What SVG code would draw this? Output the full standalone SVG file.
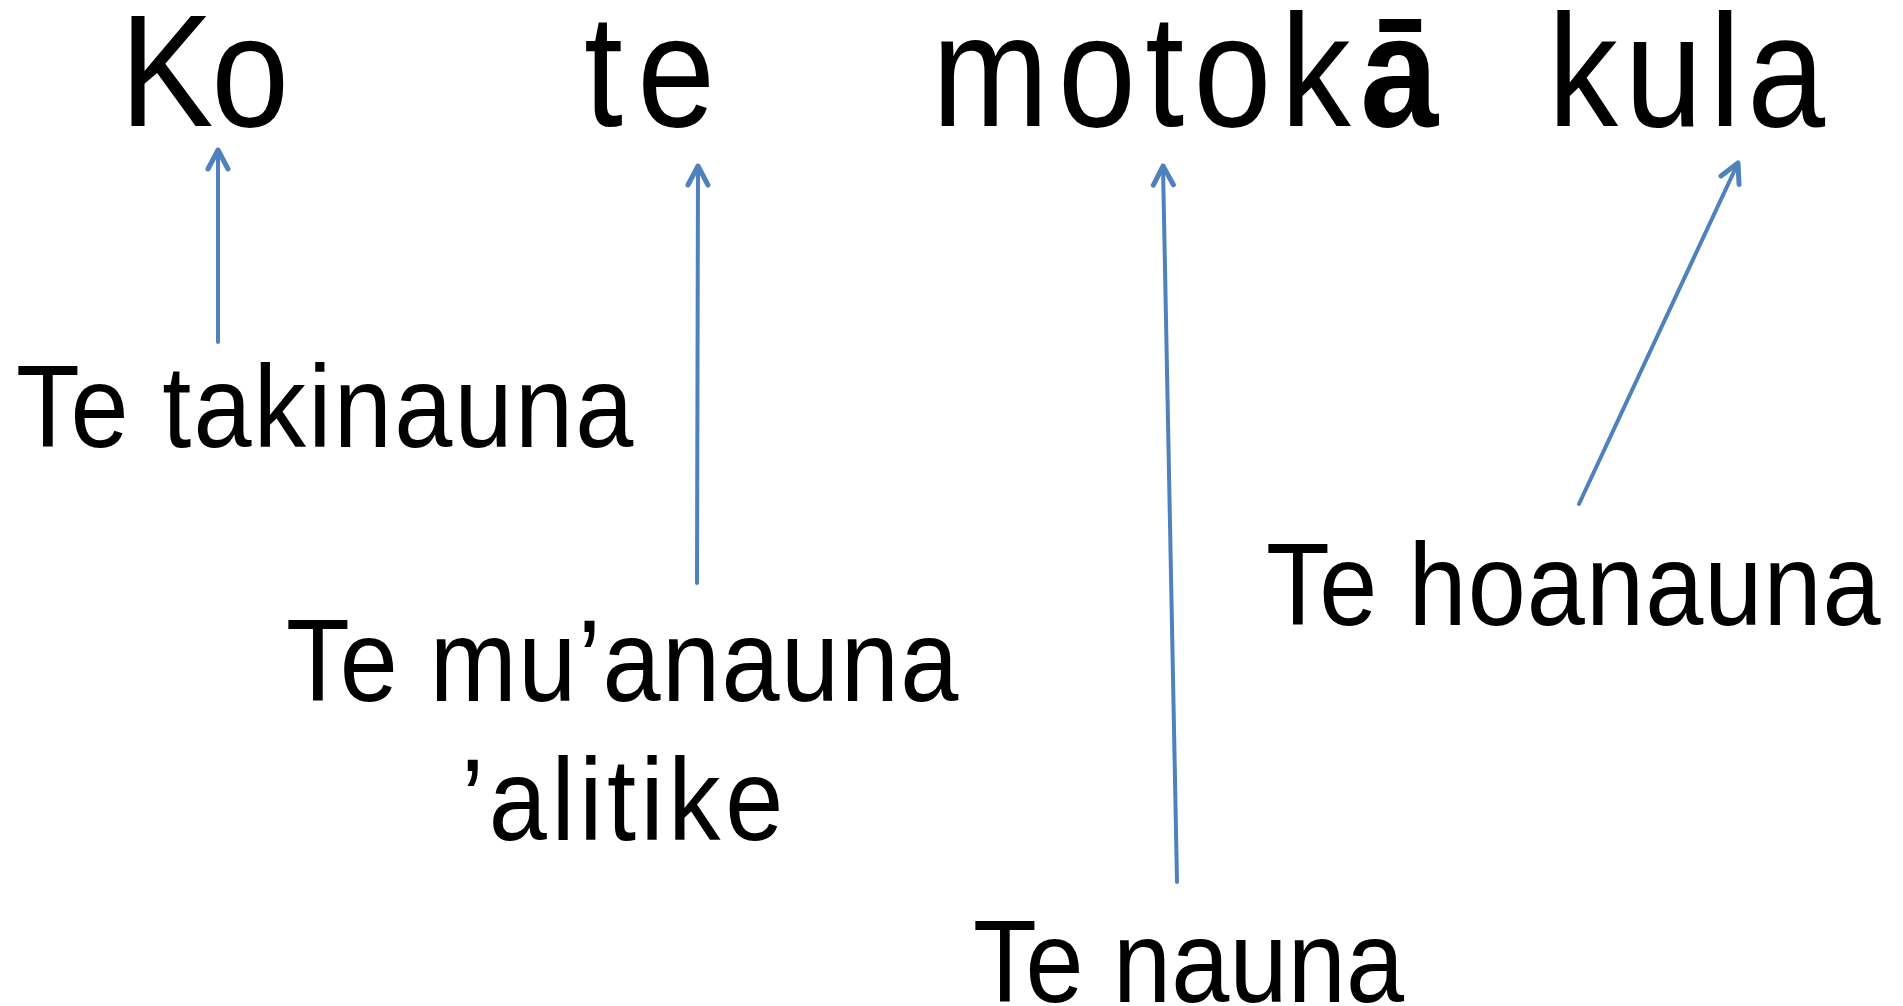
<svg xmlns="http://www.w3.org/2000/svg" width="1903" height="1006" viewBox="0 0 1903 1006">
<style>
.w{font-family:"Liberation Sans",Arial,sans-serif;font-size:159px;fill:#000}
.l{font-family:"Liberation Sans",Arial,sans-serif;font-size:116px;fill:#000}
.c{fill:none;stroke:#4F81BD;stroke-width:4;stroke-linecap:round}
</style>
<defs>
<marker id="ah" markerUnits="userSpaceOnUse" viewBox="-26 -15 30 30" markerWidth="30" markerHeight="30" refX="0" refY="0" orient="auto">
<path d="M -19 -10 L 0 0 L -19 10" fill="none" stroke="#4F81BD" stroke-width="5" stroke-linecap="round" stroke-linejoin="round"/>
</marker>
</defs>
<rect width="1903" height="1006" fill="#fff"/>
<g id="sentence">
<text id="w-ko" class="w" transform="translate(120,126) scale(0.88,1)" textLength="192" lengthAdjust="spacing">Ko</text>
<text id="w-te" class="w" transform="translate(584,126) scale(0.88,1)" textLength="149" lengthAdjust="spacing">te</text>
<text id="w-motoka" class="w" transform="translate(932,126) scale(0.88,1)" textLength="575" lengthAdjust="spacing">motok<tspan font-weight="bold">ā</tspan></text>
<text id="w-kula" class="w" transform="translate(1548,126) scale(0.88,1)" textLength="315" lengthAdjust="spacing">kula</text>
</g>
<g id="n-takinauna"><text class="l" transform="translate(16,447) scale(0.9,1)" textLength="686" lengthAdjust="spacing">Te takinauna</text></g>
<g id="n-muanauna">
<text class="l" transform="translate(286,701) scale(0.9,1)" textLength="747" lengthAdjust="spacing">Te mu’anauna</text>
<text class="l" transform="translate(461,840) scale(0.9,1)" textLength="358" lengthAdjust="spacing">’alitike</text>
</g>
<g id="n-nauna"><text class="l" transform="translate(973,1002) scale(0.9,1)" textLength="479" lengthAdjust="spacing">Te nauna</text></g>
<g id="n-hoanauna"><text class="l" transform="translate(1266,625) scale(0.9,1)" textLength="683" lengthAdjust="spacing">Te hoanauna</text></g>
<g id="connectors">
<line class="c" x1="218" y1="342" x2="218" y2="150" marker-end="url(#ah)"/>
<line class="c" x1="697" y1="583" x2="698" y2="166" marker-end="url(#ah)"/>
<line class="c" x1="1177" y1="882" x2="1163" y2="166" marker-end="url(#ah)"/>
<line class="c" x1="1579" y1="504" x2="1738" y2="163" marker-end="url(#ah)"/>
</g>
</svg>
